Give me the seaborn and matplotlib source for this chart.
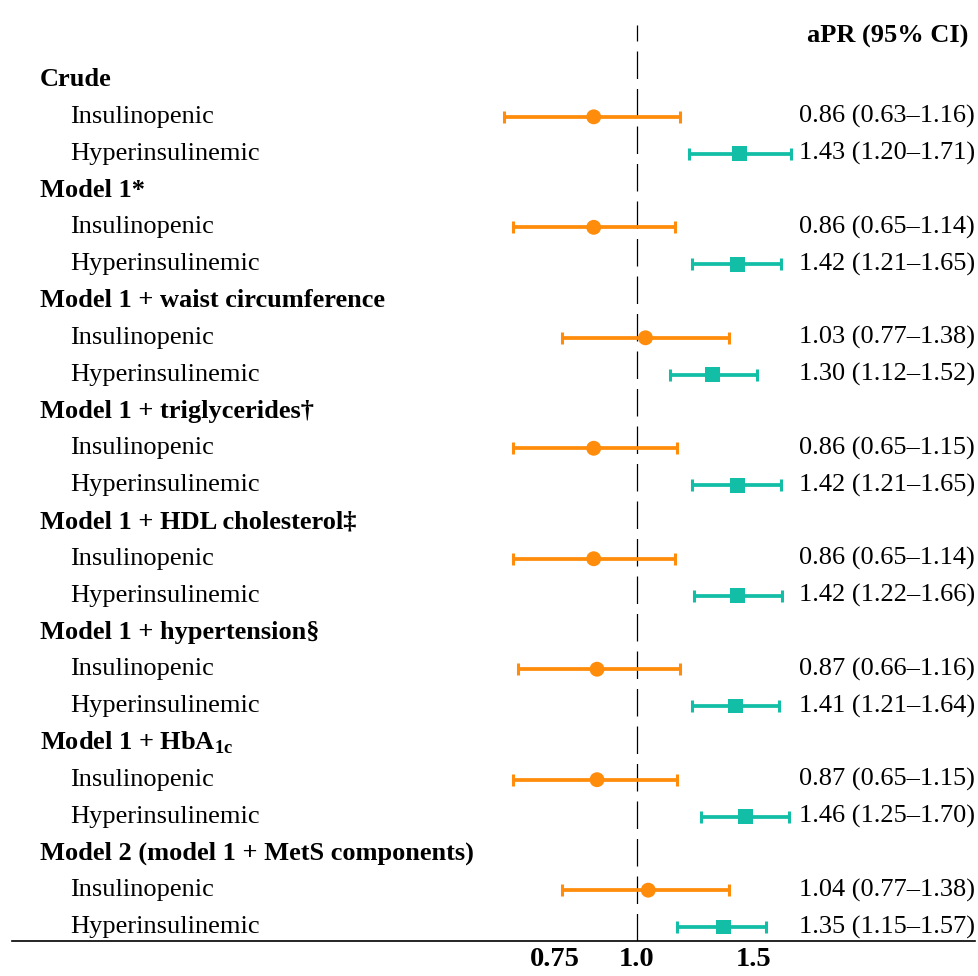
import matplotlib
matplotlib.use("Agg")
import matplotlib.pyplot as plt
import matplotlib.ticker as mticker
import seaborn as sns
import numpy as np
import pandas as pd

# Data
models = [
    "Crude",
    "Model 1*",
    "Model 1 + waist circumference",
    "Model 1 + triglycerides\u2020",
    "Model 1 + HDL cholesterol\u2021",
    "Model 1 + hypertension\u00a7",
    r"Model 1 + HbA$_{\mathbf{1c}}$",
    "Model 2 (model 1 + MetS components)",
]
groups = ["Insulinopenic", "Hyperinsulinemic"]

ins_est = [0.86, 0.86, 1.03, 0.86, 0.86, 0.87, 0.87, 1.04]
ins_lo = [0.63, 0.65, 0.77, 0.65, 0.65, 0.66, 0.65, 0.77]
ins_hi = [1.16, 1.14, 1.38, 1.15, 1.14, 1.16, 1.15, 1.38]

hyp_est = [1.43, 1.42, 1.30, 1.42, 1.42, 1.41, 1.46, 1.35]
hyp_lo = [1.20, 1.21, 1.12, 1.21, 1.22, 1.21, 1.25, 1.15]
hyp_hi = [1.71, 1.65, 1.52, 1.65, 1.66, 1.64, 1.70, 1.57]

x_ticks = [0.75, 1.0, 1.5]
x_ticklabels = ["0.75", "1.0", "1.5"]

colors = {"Insulinopenic": "#FF8C0A", "Hyperinsulinemic": "#12BFA6"}
markers = {"Insulinopenic": "o", "Hyperinsulinemic": "s"}

# long table: one row per estimate
rows = []
for i, m in enumerate(models):
    rows.append(dict(model=m, group="Insulinopenic", y=3 * i + 1,
                     est=ins_est[i], lo=ins_lo[i], hi=ins_hi[i]))
    rows.append(dict(model=m, group="Hyperinsulinemic", y=3 * i + 2,
                     est=hyp_est[i], lo=hyp_lo[i], hi=hyp_hi[i]))
df = pd.DataFrame(rows)

sns.set_theme(style="white")
plt.rcParams["font.family"] = ["Liberation Serif", "DejaVu Serif"]
plt.rcParams["mathtext.fontset"] = "custom"
plt.rcParams["mathtext.rm"] = "Liberation Serif"
plt.rcParams["mathtext.bf"] = "Liberation Serif:bold"
plt.rcParams["text.color"] = "black"
plt.rcParams["xtick.color"] = "black"

W, H = 979, 976
fig = plt.figure(figsize=(W / 100, H / 100), dpi=100)
ax = fig.add_axes([12 / W, 1 - 941 / H, (975 - 12) / W, (941 - 25) / H])

# error bars
for g in groups:
    d = df[df["group"] == g]
    ax.errorbar(d["est"], d["y"], xerr=[d["est"] - d["lo"], d["hi"] - d["est"]],
                fmt="none", ecolor=colors[g], elinewidth=2.7,
                capsize=4, capthick=2.2, zorder=2)

sns.scatterplot(data=df, x="est", y="y", hue="group", style="group",
                palette=colors, markers=markers, s=115, linewidth=0,
                legend=False, ax=ax, zorder=3)

ax.axvline(1.0, color="black", lw=0.9, dashes=(22, 8), zorder=1)

ax.set_xscale("log")
ax.set_xlim(np.exp(-625 / 287), np.exp(338 / 287))
row_px = (927 - 80) / 23
ax.set_ylim((941 - 80) / row_px, (25 - 80) / row_px)

ax.xaxis.set_major_locator(mticker.FixedLocator(x_ticks))
ax.xaxis.set_minor_locator(mticker.NullLocator())
ax.set_xticklabels(x_ticklabels, fontsize=20.5, fontweight="bold")
ax.tick_params(axis="x", length=4, width=1, direction="out", pad=0.5, colors="black")
ax.set_yticks([])
ax.set_xlabel("")
ax.set_ylabel("")
for s in ["top", "right", "left"]:
    ax.spines[s].set_visible(False)
ax.spines["bottom"].set_linewidth(1.2)
ax.spines["bottom"].set_color("black")

# row labels and estimates text
trans = ax.get_yaxis_transform()
left_hdr = (40 - 12) / (975 - 12)
left_sub = (70 - 12) / (975 - 12)
for i, m in enumerate(models):
    ax.text(left_hdr, 3 * i, m, transform=trans, fontsize=19, fontweight="bold",
            va="center", ha="left")
for _, r in df.iterrows():
    ax.text(left_sub, r["y"], r["group"], transform=trans, fontsize=19,
            va="center", ha="left")
    ax.text(1.0, r["y"], f"{r['est']:.2f} ({r['lo']:.2f}\u2013{r['hi']:.2f})",
            transform=trans, fontsize=19, va="center", ha="right")

ax.text(0.993, (25 - 80) / row_px + 0.0, "aPR (95% CI)", transform=trans,
        fontsize=19, fontweight="bold", va="top", ha="right")

fig.savefig("out.png", dpi=100)
